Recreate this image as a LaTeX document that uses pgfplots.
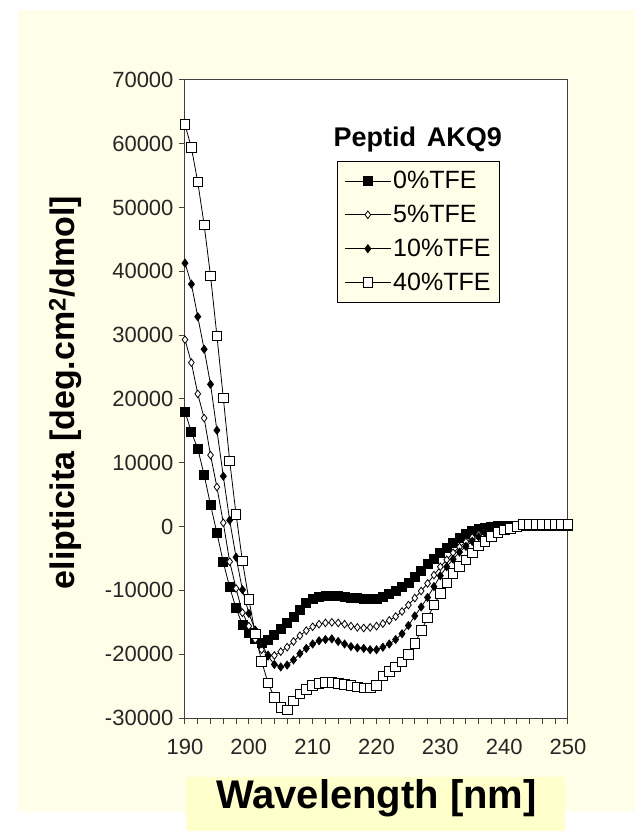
\documentclass[border=0pt]{standalone}
\usepackage{fontspec}
\setmainfont{Liberation Sans}
\usepackage{pgfplots}
\pgfplotsset{compat=1.18}
\usepackage{pgfplotstable}

\definecolor{cream}{RGB}{255,254,232}
\definecolor{boxyellow}{RGB}{255,255,204}
\definecolor{axisgray}{RGB}{64,64,64}

% CD spectra, peptide AKQ9, ellipticity vs wavelength
\pgfplotstableread{
x y
190 18000
191 14800
192 12200
193 8100
194 3400
195 -1000
196 -5600
197 -9500
198 -12800
199 -15400
200 -16700
201 -17600
202 -18200
203 -17700
204 -17000
205 -16100
206 -15100
207 -14100
208 -13000
209 -12000
210 -11400
211 -11000
212 -10800
213 -10800
214 -10900
215 -11000
216 -11100
217 -11200
218 -11300
219 -11400
220 -11400
221 -11000
222 -10600
223 -10100
224 -9500
225 -8800
226 -7900
227 -6900
228 -5900
229 -5000
230 -4200
231 -3300
232 -2500
233 -1800
234 -1200
235 -700
236 -400
237 -150
238 0
239 50
240 100
241 100
242 100
243 100
244 100
245 150
246 150
247 150
248 150
249 150
250 150
}\tfezero

\pgfplotstableread{
x y
190 29300
191 25700
192 20800
193 17000
194 11200
195 6200
196 600
197 -5500
198 -9700
199 -13500
200 -15600
201 -17700
202 -19300
203 -20100
204 -20200
205 -19600
206 -18900
207 -18000
208 -17100
209 -16300
210 -15700
211 -15300
212 -15100
213 -15000
214 -15100
215 -15300
216 -15600
217 -15800
218 -15900
219 -15800
220 -15600
221 -15200
222 -14700
223 -14100
224 -13300
225 -12300
226 -11200
227 -10100
228 -8900
229 -7600
230 -6300
231 -5200
232 -4100
233 -3200
234 -2400
235 -1700
236 -1200
237 -800
238 -500
239 -300
240 -100
241 0
242 50
243 100
244 100
245 100
246 100
247 100
248 100
249 100
250 100
}\tfefive

\pgfplotstableread{
x y
190 41300
191 38000
192 32900
193 27800
194 22300
195 15100
196 7900
197 1000
198 -4800
199 -9900
200 -13600
201 -16200
202 -18300
203 -20300
204 -21600
205 -22000
206 -21700
207 -20900
208 -19900
209 -19100
210 -18400
211 -17900
212 -17700
213 -17600
214 -18000
215 -18400
216 -18800
217 -19000
218 -19100
219 -19300
220 -19300
221 -18900
222 -18400
223 -17700
224 -16800
225 -15500
226 -14000
227 -12600
228 -11100
229 -9400
230 -7700
231 -6300
232 -5100
233 -4000
234 -3100
235 -2300
236 -1600
237 -1000
238 -600
239 -300
240 -150
241 0
242 50
243 50
244 50
245 100
246 100
247 100
248 100
249 100
250 100
}\tfeten

\pgfplotstableread{
x y
190 63000
191 59400
192 54000
193 47300
194 39300
195 29900
196 20200
197 10300
198 1900
199 -5400
200 -11400
201 -16800
202 -21100
203 -24500
204 -26800
205 -28300
206 -28700
207 -27300
208 -26200
209 -25500
210 -24900
211 -24600
212 -24450
213 -24450
214 -24550
215 -24700
216 -24900
217 -25100
218 -25300
219 -25300
220 -24900
221 -23400
222 -22700
223 -22000
224 -21200
225 -20000
226 -18300
227 -16300
228 -14300
229 -12300
230 -10500
231 -8800
232 -7300
233 -6200
234 -5200
235 -4100
236 -3000
237 -2300
238 -1500
239 -900
240 -500
241 -250
242 0
243 300
244 300
245 300
246 300
247 300
248 300
249 300
250 300
}\tfeforty

\begin{document}
\begin{tikzpicture}[x=1pt,y=1pt]
\fill[white] (0,0) rectangle (635,831);
\fill[cream] (18,19) rectangle (635,821);
\fill[boxyellow] (186,0) rectangle (565,54);
\begin{axis}[
  at={(185pt,113pt)}, anchor=south west,
  scale only axis, width=383pt, height=638pt,
  xmin=190, xmax=250, ymin=-30000, ymax=70000,
  clip=false,
  axis background/.style={fill=white},
  axis line style={axisgray, line width=1pt},
  tick align=outside, tick pos=left,
  major tick length=6pt, minor tick length=6pt,
  every tick/.style={axisgray, line width=1pt},
  xtick={190,200,...,250},
  xticklabels={190,200,210,220,230,240,250},
  minor x tick num=4,
  ytick={-30000,-20000,...,70000},
  yticklabels={-30000,-20000,-10000,0,10000,20000,30000,40000,50000,60000,70000},
  scaled y ticks=false,
  tick label style={font=\fontsize{22}{24}\selectfont, text=black!85},
  xticklabel style={yshift=-12pt},
  yticklabel style={xshift=-2pt},
  xlabel={Wavelength [nm]},
  xlabel style={font=\bfseries\fontsize{40}{44}\selectfont, at={(axis description cs:0.5,-0.126)}, anchor=center},
  ylabel={elipticita [deg.cm\textsuperscript{2}/dmol]},
  ylabel style={font=\bfseries\fontsize{34}{38}\selectfont, at={(axis description cs:-0.312,0.51)}, anchor=center},
  legend style={at={(axis description cs:0.397,0.873)}, anchor=north west,
    draw=black, fill=cream, line width=0.8pt,
    font=\fontsize{25}{28}\selectfont,
    nodes={font=\fontsize{25}{28}\selectfont},
    row sep=11pt, inner xsep=7pt, inner ysep=8pt},
  legend cell align=left,
  legend image code/.code={\draw[mark repeat=2,mark phase=2,#1] plot coordinates {(0pt,0pt) (23pt,0pt) (46pt,0pt)};},
]
\addplot[black, line width=0.8pt, mark=square*, mark size=4.5pt, mark options={solid, fill=black}] table {\tfezero};
\addlegendentry{0\%TFE}
\addplot[black, line width=0.8pt, mark=diamond*, mark size=3.8pt, mark options={solid, fill=white, draw=black}] table {\tfefive};
\addlegendentry{5\%TFE}
\addplot[black, line width=0.8pt, mark=diamond*, mark size=4pt, mark options={solid, fill=black}] table {\tfeten};
\addlegendentry{10\%TFE}
\addplot[black, line width=0.8pt, mark=square*, mark size=4.8pt, mark options={solid, fill=white, draw=black}] table {\tfeforty};
\addlegendentry{40\%TFE}
\node[font=\bfseries\fontsize{27}{30}\selectfont] at (axis description cs:0.608,0.906) {Peptid\hspace{0.4em}AKQ9};
\end{axis}
\end{tikzpicture}
\end{document}
